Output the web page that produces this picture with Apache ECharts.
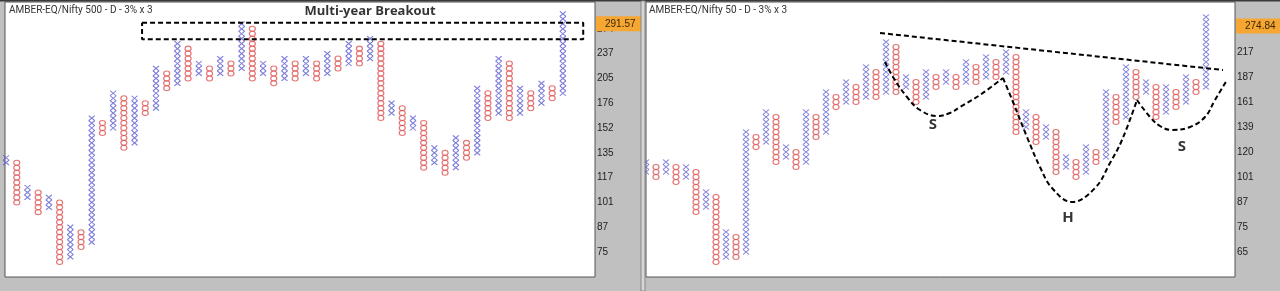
<!DOCTYPE html>
<html>
<head>
<meta charset="utf-8">
<script src="https://cdn.jsdelivr.net/npm/echarts@6/dist/echarts.min.js"></script>
<style>
html,body{margin:0;padding:0;background:#c0c0c0;}
#chart{width:1280px;height:291px;}
</style>
</head>
<body>
<div id="chart"></div>
<script>
// ---------- DATA (box indices; each box = 3%, every 5th box labelled) ----------
// Left panel: AMBER-EQ/Nifty 500 ; columns alternate X, O, X, ... starting with X
const leftLow  = [18,10,11, 8, 9,-2,-1, 1, 2,24,25,21,22,28,29,33,34,35,36,35,36,36,37,35,36,34,35,35,36,35,36,37,38,38,39,27,28,24,25,17,18,16,17,19,20,27,28,27,28,29,30,31,32];
const leftHigh = [19,18,13,12,11,10, 5, 4,27,26,32,31,31,30,37,36,42,41,38,37,39,38,46,45,38,37,39,38,39,38,40,39,42,41,43,42,30,29,27,26,21,20,23,22,33,32,39,38,33,32,34,33,48];
const leftTickIdx    = [0,5,10,15,20,25,30,35,40,45];
const leftTickLabels = ['75','87','101','117','135','152','176','205','237','274'];
const leftLast = {idx: 46.0, label: '291.57'};
const leftTitle = 'AMBER-EQ/Nifty 500 - D - 3% x 3';
const breakoutBox = [[12.7,46.2],[53.9,46.2],[53.9,42.9],[12.7,42.9],[12.7,46.2]];
const breakoutText = {pos: [34.0, 48.6], text: 'Multi-year Breakout'};

// Right panel: AMBER-EQ/Nifty 50
const rightLow  = [16,15,16,14,15, 8, 9,-2,-1,-1, 0,21,22,18,19,17,18,23,24,29,30,30,31,31,32,32,33,30,31,33,34,33,34,34,35,35,36,24,25,22,23,16,17,15,16,18,19,26,27,31,32,27,28,29,30,32,33];
const rightHigh = [18,17,18,17,17,16,12,11, 4, 3,24,23,28,27,21,20,28,27,32,31,34,33,37,36,42,41,35,34,36,35,36,35,38,37,39,38,40,39,28,27,25,24,19,18,21,20,32,31,37,36,34,33,33,32,35,34,47];
const rightTickIdx    = [0,5,10,15,20,25,30,35,40,45];
const rightTickLabels = ['65','75','87','101','120','139','161','187','217','251'];
const rightLast = {idx: 45.2, label: '274.84'};
const rightTitle = 'AMBER-EQ/Nifty 50 - D - 3% x 3';
const necklineLine  = [[23.4,43.8],[57.7,36.4]];
const leftShoulder  = [[23.9,38.0],[24.7,35.0],[26.1,31.0],[27.4,28.4],[29.1,27.2],[30.4,27.8],[31.4,29.0],[33.4,31.4],[35.7,34.8]];
const headCurve     = [[35.7,34.8],[36.7,30.0],[38.1,23.0],[39.4,17.0],[40.6,12.8],[42.6,10.0],[44.9,12.8],[46.4,17.8],[47.6,22.4],[49.1,30.4]];
const rightShoulder = [[49.1,30.4],[50.4,27.0],[51.4,25.2],[52.6,24.4],[54.4,25.0],[55.9,27.0],[56.9,30.4],[58.1,34.4]];
const patternLabels = [{pos:[28.7,25.5],text:'S'},{pos:[42.2,6.8],text:'H'},{pos:[53.6,21.1],text:'S'}];

// ---------- BUILD ----------
const X_COLOR = '#5c5cd2';
const O_COLOR = '#e05252';
const X_PATH = 'path://M0,0L10,10M10,0L0,10';

function boxes(low, high) {
  const xs = [], os = [];
  for (let i = 0; i < low.length; i++) {
    const target = (i % 2 === 0) ? xs : os;
    for (let k = low[i]; k <= high[i]; k++) target.push([i, k]);
  }
  return {xs, os};
}
const L = boxes(leftLow, leftHigh);
const R = boxes(rightLow, rightHigh);

function xSeries(data, gi, last) {
  return {
    type: 'scatter', xAxisIndex: gi, yAxisIndex: gi, data: data,
    symbol: X_PATH, symbolSize: [6, 5], silent: true,
    itemStyle: {color: 'rgba(0,0,0,0)', borderColor: X_COLOR, borderWidth: 1.1},
    z: 3,
    markLine: {
      silent: true, symbol: 'none', animation: false,
      lineStyle: {width: 0, color: 'rgba(0,0,0,0)'},
      label: {
        show: true, position: 'end', distance: 1, formatter: last.label,
        backgroundColor: '#f6a733', color: '#3a2800', fontSize: 10,
        fontFamily: 'Liberation Sans', padding: [3, 6, 2, 9]
      },
      data: [{yAxis: last.idx}]
    }
  };
}
function oSeries(data, gi) {
  return {
    type: 'scatter', xAxisIndex: gi, yAxisIndex: gi, data: data,
    symbol: 'circle', symbolSize: [6, 5], silent: true,
    itemStyle: {color: 'rgba(0,0,0,0)', borderColor: O_COLOR, borderWidth: 1.1},
    z: 3
  };
}
function dashed(data, gi, smooth) {
  return {
    type: 'line', xAxisIndex: gi, yAxisIndex: gi, data: data,
    symbol: 'none', smooth: smooth ? 0.4 : false, silent: true,
    lineStyle: {color: '#000', width: 2, type: [5, 3]}, z: 4
  };
}
function textMark(item, gi, size) {
  return {
    type: 'scatter', xAxisIndex: gi, yAxisIndex: gi, data: [item.pos],
    symbolSize: 1, silent: true, itemStyle: {color: 'rgba(0,0,0,0)'},
    label: {show: true, position: 'inside', formatter: item.text,
      color: '#000', fontWeight: 'bold', fontSize: size, fontFamily: 'Open Sans'},
    z: 5
  };
}
function yAx(gi, min, max, idx, labels) {
  return {
    type: 'value', gridIndex: gi, position: 'right', min: min, max: max,
    axisLine: {show: false}, axisTick: {show: false}, splitLine: {show: false},
    axisLabel: {
      show: true, margin: 2, fontSize: 10, color: '#222', fontFamily: 'Liberation Sans',
      customValues: idx,
      formatter: function (v) { const j = idx.indexOf(Math.round(v)); return j >= 0 ? labels[j] : ''; }
    }
  };
}
const titleStyle = {fontSize: 10, fontWeight: 'normal', color: '#333', fontFamily: 'Roboto'};

const option = {
  animation: false,
  backgroundColor: '#c0c0c0',
  title: [
    {text: leftTitle, left: 9, top: 5, padding: 0, textStyle: titleStyle},
    {text: rightTitle, left: 649, top: 5, padding: 0, textStyle: titleStyle}
  ],
  grid: [
    {left: 5, top: 2, width: 590, height: 275, show: true, backgroundColor: '#fff', borderColor: '#555', borderWidth: 1},
    {left: 646, top: 2, width: 589, height: 275, show: true, backgroundColor: '#fff', borderColor: '#555', borderWidth: 1}
  ],
  xAxis: [
    {type: 'value', gridIndex: 0, min: -0.1, max: 55, show: false},
    {type: 'value', gridIndex: 1, min: 0, max: 58.9, show: false}
  ],
  yAxis: [
    yAx(0, -5.04, 50.4, leftTickIdx, leftTickLabels),
    yAx(1, -5, 50, rightTickIdx, rightTickLabels)
  ],
  graphic: [
    {type: 'rect', shape: {x: 0, y: 0, width: 1280, height: 1.5}, style: {fill: '#3a3a3a'}, z: 10},
    {type: 'rect', shape: {x: 641, y: 1, width: 4, height: 290}, style: {fill: '#d6d6d6', stroke: '#888', lineWidth: 1}, z: 10}
  ],
  series: [
    xSeries(L.xs, 0, leftLast), oSeries(L.os, 0),
    dashed(breakoutBox, 0, false), textMark(breakoutText, 0, 13),
    xSeries(R.xs, 1, rightLast), oSeries(R.os, 1),
    dashed(necklineLine, 1, false), dashed(leftShoulder, 1, true),
    dashed(headCurve, 1, true), dashed(rightShoulder, 1, true),
    textMark(patternLabels[0], 1, 15), textMark(patternLabels[1], 1, 15), textMark(patternLabels[2], 1, 15)
  ]
};
const chart = echarts.init(document.getElementById('chart'), null, {renderer: 'canvas'});
chart.setOption(option);
</script>
</body>
</html>
